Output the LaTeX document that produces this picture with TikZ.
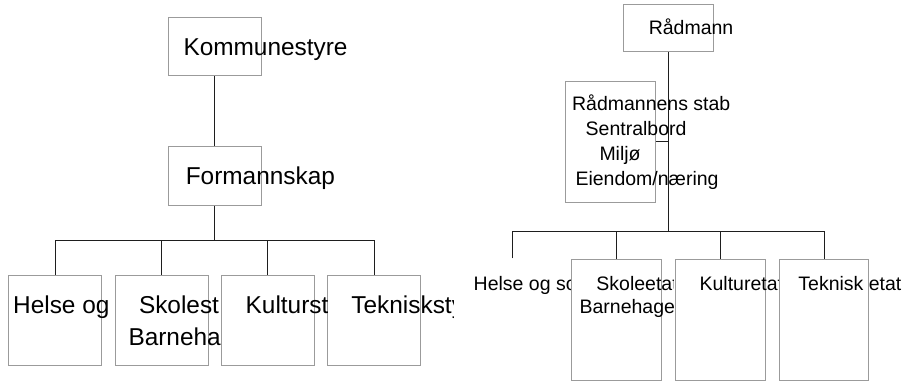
\documentclass[tikz,border=0pt]{standalone}
\usepackage{fontspec}
\setmainfont{Liberation Sans}
\definecolor{boxgray}{RGB}{155,155,155}
\definecolor{linec}{RGB}{30,30,30}
\newcommand{\bigf}{\fontsize{24.4}{29}\selectfont}
\newcommand{\smallf}{\fontsize{19.5}{23}\selectfont}
\tikzset{
  orgbox/.style={draw=boxgray, line width=1pt, inner sep=0pt, fill=none},
  lbox/.style={orgbox, minimum width=92.7pt, minimum height=58.4pt},
  lbot/.style={orgbox, minimum width=92.7pt, minimum height=90pt},
  rbox/.style={orgbox, minimum width=89.4pt},
  lbl/.style={anchor=base west, inner sep=0pt, font=\bigf, text=black},
  slbl/.style={anchor=base west, inner sep=0pt, font=\smallf, text=black},
  conn/.style={draw=linec, line width=1pt}
}
\begin{document}
\begin{tikzpicture}[x=1pt,y=-1pt]
\useasboundingbox (0,0) rectangle (906,381);
\fill[white] (0,0) rectangle (906,381);

% ---------- left chart ----------
\node[lbox] (komm) at (214.65,46.5) {};
\node[lbox] (form) at (214.65,175.85) {};
\node[lbot] (b1) at (55.2,320) {};
\node[lbot] (b2) at (161.65,320) {};
\node[lbot] (b3) at (267.85,320) {};
\node[lbot] (b4) at (374,320) {};
\coordinate (lbus) at (214.65,240);

\draw[conn] (komm.south) -- (form.north);
\draw[conn] (form.south) -- (lbus);
\draw[conn] (b1.north) |- (b4.north |- lbus) -- (b4.north);
\draw[conn] (b2.north) -- (b2.north |- lbus);
\draw[conn] (b3.north) -- (b3.north |- lbus);

\node[lbl] (tkomm) at (183.3,55) {Kommunestyre};
\node[lbl] (tform) at (185.6,184.5) {Formannskap};
\begin{scope}
  \clip (0,260) rectangle (110,381);
  \node[lbl] (tb1) at (13,313.3) {Helse og};
\end{scope}
\begin{scope}
  \clip (110,260) rectangle (220.7,381);
  \node[lbl] (tb2a) at (138.8,313.3) {Skolest};
  \node[lbl] (tb2b) at (128.3,345) {Barneha};
\end{scope}
\begin{scope}
  \clip (220.7,260) rectangle (327.7,381);
  \node[lbl] (tb3) at (245.5,313.3) {Kulturst};
\end{scope}
\begin{scope}
  \clip (327.7,260) rectangle (453,381);
  \node[lbl] (tb4) at (351.2,313.3) {Teknisksty};
\end{scope}

% ---------- right chart ----------
\node[rbox, minimum height=47pt] (rad) at (668.65,28.2) {};
\node[rbox, minimum height=121.3pt] (stab) at (610.35,141.65) {};
\node[rbox, minimum height=120.7pt] (r2) at (616.5,319.65) {};
\node[rbox, minimum height=120.7pt] (r3) at (720.35,319.65) {};
\node[rbox, minimum height=120.7pt] (r4) at (824,319.65) {};
\coordinate (r1) at (512.3,258.3);
\coordinate (rbus) at (668.65,231);

\node[slbl] (trad) at (648.6,34.3) {Rådmann};
\node[slbl] (ts1) at (571.9,110) {Rådmannens stab};
\node[slbl] (ts2) at (585.5,135) {Sentralbord};
\node[slbl] (ts3) at (599.3,160) {Miljø};
\node[slbl] (ts4) at (575.3,185.5) {Eiendom/næring};

\draw[conn] (rad.south) -- (rbus);
\draw[conn] (stab.east) -- (stab.east -| rad.south);
\draw[conn] (r1) |- (r4.north |- rbus) -- (r4.north);
\draw[conn] (r2.north) -- (r2.north |- rbus);
\draw[conn] (r3.north) -- (r3.north |- rbus);

\begin{scope}
  \clip (460,260) rectangle (570,381);
  \node[slbl] (tr1) at (473.5,290) {Helse og sosial};
\end{scope}
\begin{scope}
  \clip (570,260) rectangle (673.3,381);
  \node[slbl] (tr2a) at (596.2,290) {Skoleetat};
\end{scope}
\node[slbl] (tr2b) at (579.4,313.3) {Barnehage};
\begin{scope}
  \clip (673.3,260) rectangle (778.5,381);
  \node[slbl] (tr3) at (699.4,290) {Kulturetat};
\end{scope}
\node[slbl] (tr4) at (798.2,290) {Teknisk etat};
\end{tikzpicture}
\end{document}
